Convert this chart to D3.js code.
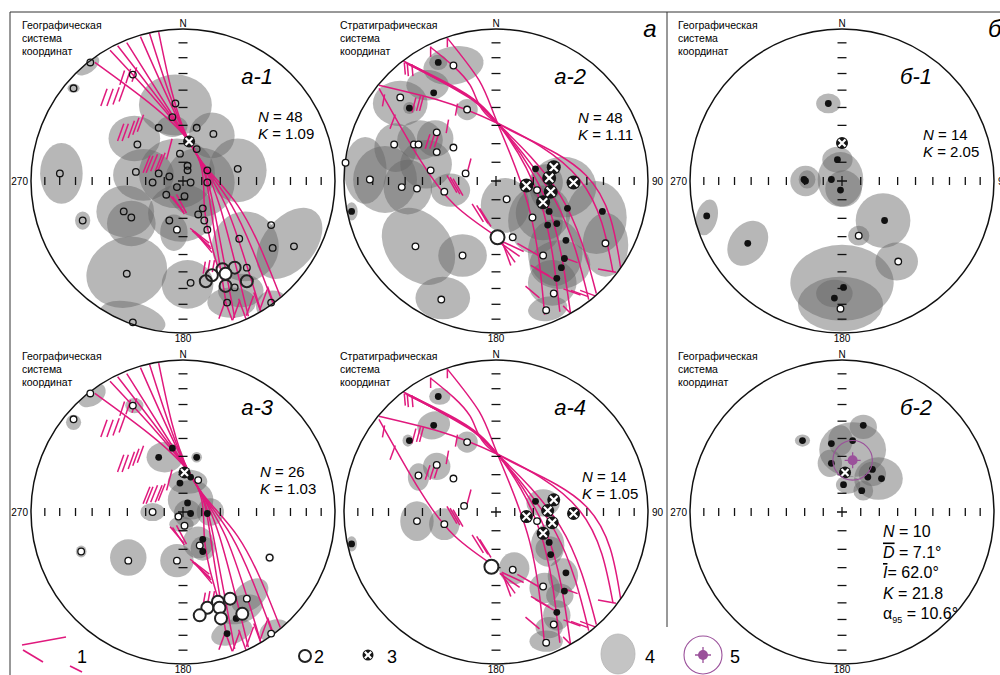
<!DOCTYPE html>
<html lang="ru">
<head>
<meta charset="UTF-8">
<title>Стереограммы</title>
<script src="https://d3js.org/d3.v7.min.js"></script>
<style>
  body { margin: 0; background: #fff; }
  svg { font-family: "Liberation Sans", Arial, sans-serif; display: block; }
</style>
</head>
<body>
<div id="chart"></div>
<script>
// all net data in percent of the net radius: x to the east, y to the north
// ellipses: [x, y, rx, ry, tilt (deg, clockwise)]

// ---- а-1 (geographic) ----
var ellA1 = [
  [-63,76,9,5,-35], [-72,61,4,3,0], [-5,50,24,20,0], [-80,5,14,20,0], [-32,28,17,15,0],
  [-7,36,10,7,0], [19,30,15,15,0], [36,7,19,21,0], [-4,5,25,23,0], [-26,4,20,17,0],
  [11,-1,23,23,0], [-38,-20,19,17,0], [-34,-28,16,15,0], [-1,-21,22,19,0], [-6,-34,9,12,0],
  [41,-43,22,23,0], [70,-41,27,17,-50], [-37,-60,27,23,-20], [3,-68,17,16,0], [38,-72,15,11,0],
  [32,-80,16,10,0], [-33,-90,22,10,15], [59,-82,11,10,0], [-66,-26,5,6,0]
];
var openA1 = [
  [-61,78],[-33,70],[-72,61],[-5,51],[-7,42],[-16,35],[9,35],[20,31],[-30,24],[9,21],
  [-2,18],[36,8],[-31,6],[-16,5],[-81,5],[3,10],[3,7],[16,7],[-9,3],[-20,-1],
  [5,-1],[16,-1],[-4,-4],[-11,-9],[1,-10],[-39,-20],[-34,-24],[13,-18],[10,-22],[-66,-26],
  [-9,-26],[14,-26],[16,-32],[58,-29],[37,-38],[59,-44],[73,-43],[42,-57],[-37,-61],[5,-67],
  [34,-70],[29,-80],[58,-80],[-33,-93]
];
var whiteA1 = [[-4,-32]];
var bigA1 = [[34,-57],[26,-58],[19,-62],[15,-66],[28,-69],[42,-66]];
var bigWhiteA1 = [[28,-61]];
var crossA1 = [[4,26]];

// ---- а-3 (geographic) ----
var ellA3 = [
  [-60,77,10,7,-35], [-32,70,6,5,0], [-72,59,5,5,0], [-12,36,12,10,0], [9,36,3.5,3.5,0],
  [3,20,13,8,0], [-20,0,8,6,0], [5,8,15,13,0], [18,0,9,9,0], [3,-1,9,9,0],
  [-1,-8,8,5,0], [10,-20,10,10.5,0], [13,-24,8,8,0], [-67,-26,3.5,4,0], [-36,-30,12,12,0],
  [-4,-32,11,11,0], [57,-30,3,3,0], [44,-55,14,9,-40], [38,-64,15,9,-20], [32,-79,14,8,-20],
  [60,-78,10,7,-20]
];
var openA3 = [[-61,78],[-33,70],[-72,61],[10,21],[-20,0],[-3,-3],[1,-9],[11,-22],[-67,-26],
  [-36,-32],[-4,-32],[57,-30],[42,-57],[58,-80]];
var dotsA3 = [[-7,42],[-16,36],[9,36],[5,23],[-2,19],[3,6],[5,-1],[16,-1],[13,-18],[13,-26],[35,-70],[29,-80]];
var bigA3 = [[23,-59],[31,-57],[16,-63],[24,-63],[11,-68],[25,-70],[39,-67]];
var crossA3 = [[1,26]];

// ---- а-2 (stratigraphic) ----
var ellA2 = [
  [-28,76,20,12.5,-10], [-38,78,6,5,0], [-45,63,14,10,0], [-63,51,18,15,0], [-57,48,4,4,0],
  [-19,47,7,7,0], [-86,7,14,22,0], [-66,22,14,16,0], [-50,27,15,13,0], [-40,28,12,12,0],
  [-73,1,21,22,0], [-58,-4,16,18,0], [-46,11,17,16,0], [-30,-6,13,11,0], [-95,-20,4,6,0],
  [-51,-43,28,21,50], [-22,-49,16,14,0], [-35,-77,18,14,0], [6,-16,16,18,0], [26,-26,18,22,0],
  [44,-4,22,20,0], [66,-24,20,24,0], [72,-42,15,21,0], [39,-47,18,22,0], [42,-55,20,16,0],
  [37,-67,16,15,0], [34,-84,13,8,-10], [31,-21,18,18,0], [33,-1,11,12,0]
];
var openA2 = [[-28,76],[-63,55],[-19,47],[-67,24],[-54,24],[-51,24],[-39,32],[-28,22],[-39,19],[-43,7],
  [-20,5],[-99,12],[-83,1],[-62,-4],[-52,-5],[-34,-7],[7,-12],[27,-6],[24,-24],[11,-37],
  [-53,-43],[-22,-49],[31,-49],[72,-41],[-36,-78],[38,-74],[33,-85]];
var dotsA2 = [[-38,78],[-41,58],[-57,48],[26,8],[-95,-20],[35,-20],[47,-18],[34,-29],[40,-28],[70,-20],
  [46,-39],[45,-51],[43,-57],[40,-64]];
var crossA2 = [[38,9],[35,2],[20,-3],[36,-7],[51,-1],[31,-14]];
var bigA2 = [[1,-37]];

// ---- а-4 (stratigraphic) ----
var ellA4 = [
  [-37,76,7,5.5,0], [-41,57,11,9,-20], [-58,47,3.5,4,0], [-19,46,7,7,0], [-39,30,9,9,0],
  [-51,23,7,9,0], [-52,-6,11,13,0], [-34,-8,10,10.5,0], [-95,-21,3.5,5,0], [31,6,11,9,0],
  [34,-22,11,14,0], [35,-24,9,8,0], [12,-37,10,10.5,0], [44,-42,10,11.5,0], [32,-50,10,10,0],
  [42,-55,9,8,0], [40,-68,9,10,0], [35,-76,9,7,0], [33,-85,11,7,0]
];
var dotsA4 = [[-38,76],[-41,57],[-57,47],[26,7],[-95,-21],[35,-20],[36,-28],[46,-40],[45,-52],[40,-66]];
var openA4 = [[-19,46],[-39,31],[-51,24],[-28,22],[-21,4],[-52,-6],[-34,-8],[27,-6],[11,-38],[31,-49],[38,-74],[33,-86]];
var crossA4 = [[38,8],[34,1],[20,-3],[37,-7],[51,-1],[31,-14]];
var bigA4 = [[-3,-36]];

// ---- б-1 ----
var ellB1 = [
  [-9,51,8,6.5,0], [-1,1,15,18,0], [-3,14,10,8.5,0], [1,-5,12,12,0], [-24,0,10,10,0],
  [-23,1,5.5,6,0], [-89,-24,7,12,15], [-62,-41,12,16,35], [27,-26,18,18,0], [11,-36,7,6.5,0],
  [36,-53,14,12.5,0], [0,-67,34,25,0], [-1,-81,28,18,0], [-5,-74,12,9,0]
];
var dotsB1 = [[-9,51],[-3,14],[-25,1],[-24,0],[-7,1],[-1,-6],[-89,-23],[-62,-41],[28,-26],[1,-70],[-5,-77]];
var openB1 = [[11,-36],[37,-53],[-1,-84]];
var crossB1 = [[0,25]];

// ---- б-2 ----
var ellB2 = [
  [14,56,9,8,0], [-26,47,5,4,0], [7,41,22,18,0], [-1,47,8,10,0], [-8,32,8,9,0],
  [24,22,16,14,0], [20,25,9,8,0], [4,18,8,6,0], [14,14,6.5,6.5,0]
];
var dotsB2 = [[14,57],[-26,47],[-7,45],[7,47],[-7,32],[20,28],[17,23],[26,22],[1,18],[13,14]];
var crossB2 = [[2,26]];
var meanB2 = [7,34];
var a95B2 = 13;

// remagnetization circles and their traces
var arcsGeo = [
  [[-58,78],[4,26],[14,-16],[23,-57]],
  [[-48,86],[4,26],[18,-16],[28,-78]],
  [[-43,89],[4,26],[20,-16],[34,-90]],
  [[-37,91],[4,26],[24,-16],[43,-89]],
  [[-28,95],[4,26],[28,-16],[51,-85]],
  [[-22,97],[4,26],[32,-16],[59,-80]],
  [[-16,98],[4,26],[36,-16],[64,-76]]
];
// dashes: [x, y, angle (deg, ccw from east), length]
var dashesGeo = [
  [-52,55,70,12],[-48,55,70,12],[-44,56,70,12],[-40,58,70,12],
  [-40,68,72,10],[-36,69,72,10],[-32,70,72,10],
  [-41,32,70,12],[-38,32,70,12],[-34,34,70,12],[-31,36,70,12],[-28,38,70,12],
  [-24,11,68,12],[-22,11,68,12],[-19,12,68,12],[-16,12,68,12],[-14,13,68,12],
  [-9,21,75,14],
  [-4,-15,-50,14],[-3,-16,-56,14],[-1,-15,-62,14],
  [11,-36,-38,16],[12,-38,-42,16],[13,-39,-46,16],[14,-41,-50,16],
  [14,-57,80,8],[17,-56,80,8],[20,-56,80,8],
  [26,-84,70,14],[30,-85,110,14],[35,-85,70,14],[39,-84,110,14],
  [44,-82,70,14],[49,-80,110,14],[53,-78,70,14],[58,-76,110,14]
];
var arcsStrat = [
  [[-61,79],[-24,60],[1,38],[29,-13],[42,-86]],
  [[-60,78],[-22,58],[1,38],[33,-13],[49,-87]],
  [[-58,77],[-20,57],[1,38],[39,-13],[61,-78]],
  [[-55,76],[-18,55],[1,38],[42,-9],[66,-74]],
  [[-77,63],[-37,53],[1,38],[55,1],[77,-60]],
  [[-43,88],[-17,63],[1,38],[59,4],[82,-57]],
  [[-32,94],[-11,66],[1,38],[22,-19],[32,-88]],
  [[-77,61],[-50,14],[-27,-16],[1,-37]]
];
var dashesStrat = [
  [-60,74,95,8],[-58,73,95,8],[-55,73,95,8],
  [-43,85,90,7],[-32,91,90,6],
  [-74,53,80,8],[-68,39,70,10],
  [-54,50,75,10],[-51,51,75,10],[-49,51,75,10],
  [-45,26,72,10],[-42,26,72,10],[-39,27,72,10],
  [-32,36,80,9],[-26,47,80,8],[-18,9,75,12],
  [-29,-2,-60,13],[-27,-3,-60,13],[-25,-4,-60,13],
  [-12,-21,-58,14],[-9,-22,-58,14],[-7,-24,-58,14],
  [9,-45,-35,16],[8,-47,-55,16],[11,-43,-25,16],[7,-48,-70,16],
  [21,-45,-30,16],
  [29,-59,-30,14],[32,-61,-30,14],
  [24,-73,-40,12],
  [50,-73,-20,12],[55,-74,-20,12],[61,-74,-20,12],
  [47,-85,-45,8],[73,-59,-10,12],[49,-52,-20,10]
];

var tickInc = [80, 70, 60, 50, 40, 30, 20, 10];   // inclination ticks, equal-area net
var sysLines = ["система", "координат"];

var R = 152;
var magenta = "#e0197d", purple = "#9b519b";

var panels = [
  {id:"a1", cx:183, cy:181, label:"а-1", sys:"Географическая", lx:22, w:true, e:false,
   stats:["48","1.09"], sx:75, sy:-59, hollow:true, ell:ellA1, open:openA1, white:whiteA1, dots:[],
   big:bigA1, bigWhite:bigWhiteA1, cross:crossA1, crossR:6, arcs:arcsGeo, dashes:dashesGeo},
  {id:"a2", cx:496, cy:181, label:"а-2", sys:"Стратиграфическая", lx:340, w:false, e:true,
   stats:["48","1.11"], sx:82, sy:-58, ell:ellA2, open:openA2, dots:dotsA2,
   big:[], bigWhite:bigA2, cross:crossA2, crossR:7, arcs:arcsStrat, dashes:dashesStrat},
  {id:"b1", cx:842, cy:181, label:"б-1", sys:"Географическая", lx:678, w:true, e:true,
   stats:["14","2.05"], sx:81, sy:-41, ell:ellB1, open:openB1, dots:dotsB1,
   big:[], bigWhite:[], cross:crossB1, crossR:6, arcs:[], dashes:[]},
  {id:"a3", cx:183, cy:512, label:"а-3", sys:"Географическая", lx:22, w:true, e:false,
   stats:["26","1.03"], sx:77, sy:-35, ell:ellA3, open:openA3, dots:dotsA3,
   big:[], bigWhite:bigA3, cross:crossA3, crossR:6, arcs:arcsGeo, dashes:dashesGeo},
  {id:"a4", cx:496, cy:512, label:"а-4", sys:"Стратиграфическая", lx:340, w:false, e:true,
   stats:["14","1.05"], sx:86, sy:-30, ell:ellA4, open:openA4, dots:dotsA4,
   big:[], bigWhite:bigA4, cross:crossA4, crossR:6.5, arcs:arcsStrat, dashes:dashesStrat},
  {id:"b2", cx:842, cy:512, label:"б-2", sys:"Географическая", lx:678, w:true, e:false,
   ell:ellB2, open:[], dots:dotsB2, big:[], bigWhite:[], cross:crossB2, crossR:6, arcs:[], dashes:[],
   mean:meanB2, a95:a95B2}
];

var svg = d3.select("#chart").append("svg")
  .attr("width", 1000).attr("height", 675)
  .style("background", "#fff");

// frame
svg.append("path").attr("d", "M10,675V12H1000").attr("fill", "none").attr("stroke", "#333").attr("stroke-width", 1);
svg.append("line").attr("x1", 667).attr("x2", 667).attr("y1", 12).attr("y2", 627)
  .attr("stroke", "#333").attr("stroke-width", 1);
svg.append("text").attr("x", 650).attr("y", 37).attr("text-anchor", "middle")
  .style("font-size", "24px").style("font-style", "italic").text("а");
svg.append("text").attr("x", 988).attr("y", 37)
  .style("font-size", "24px").style("font-style", "italic").text("б");

function eqArea(inc) {
  return Math.SQRT2 * Math.sin((90 - inc) / 2 * Math.PI / 180) * 100;
}

function crossMark(g, x, y, data, r) {
  var c = g.selectAll(null).data(data).join("g")
    .attr("transform", function(d) { return "translate(" + x(d[0]) + "," + y(d[1]) + ")"; });
  c.append("circle").attr("r", r).attr("fill", "#151515");
  var a = r * 0.58;
  c.append("path").attr("d", "M" + (-a) + "," + (-a) + "L" + a + "," + a + "M" + a + "," + (-a) + "L" + (-a) + "," + a)
    .attr("stroke", "#fff").attr("stroke-width", 2.2);
}

function meanMark(g, px, py, r) {
  var m = g.append("g").attr("transform", "translate(" + px + "," + py + ")");
  m.append("circle").attr("r", r).attr("fill", "none").attr("stroke", purple).attr("stroke-width", 1.1);
  m.append("circle").attr("r", 5).attr("fill", purple);
  m.append("path").attr("d", "M0,-8V8M-8,0H8").attr("stroke", purple).attr("stroke-width", 1.3);
}

panels.forEach(function(p) {
  var x = d3.scaleLinear().domain([-100, 100]).range([p.cx - R, p.cx + R]);
  var y = d3.scaleLinear().domain([-100, 100]).range([p.cy + R, p.cy - R]);
  var len = function(v) { return x(v) - x(0); };

  var g = svg.append("g").attr("class", "net-" + p.id);
  svg.append("clipPath").attr("id", "clip-" + p.id)
    .append("circle").attr("cx", p.cx).attr("cy", p.cy).attr("r", R);
  var inner = g.append("g").attr("clip-path", "url(#clip-" + p.id + ")");

  // confidence ellipses
  inner.selectAll("ellipse").data(p.ell).join("ellipse")
    .attr("transform", function(d) { return "translate(" + x(d[0]) + "," + y(d[1]) + ") rotate(" + d[4] + ")"; })
    .attr("rx", function(d) { return len(d[2]); })
    .attr("ry", function(d) { return len(d[3]); })
    .attr("fill", "#666").attr("fill-opacity", 0.47);

  // arc traces
  inner.selectAll("line.dash").data(p.dashes).join("line").attr("class", "dash")
    .attr("x1", function(d) { return x(d[0] - d[3] / 2 * Math.cos(d[2] * Math.PI / 180)); })
    .attr("y1", function(d) { return y(d[1] - d[3] / 2 * Math.sin(d[2] * Math.PI / 180)); })
    .attr("x2", function(d) { return x(d[0] + d[3] / 2 * Math.cos(d[2] * Math.PI / 180)); })
    .attr("y2", function(d) { return y(d[1] + d[3] / 2 * Math.sin(d[2] * Math.PI / 180)); })
    .attr("stroke", magenta).attr("stroke-width", 1.5);

  var line = d3.line().x(function(d) { return x(d[0]); }).y(function(d) { return y(d[1]); }).curve(d3.curveNatural);
  inner.selectAll("path.arc").data(p.arcs).join("path").attr("class", "arc")
    .attr("d", line).attr("fill", "none").attr("stroke", magenta).attr("stroke-width", 1.5);

  // net outline and ticks
  g.append("circle").attr("cx", p.cx).attr("cy", p.cy).attr("r", R)
    .attr("fill", "none").attr("stroke", "#111").attr("stroke-width", 1.5);
  var tk = [];
  tickInc.forEach(function(i) { var r = eqArea(i); tk.push([r, 0], [-r, 0], [0, r], [0, -r]); });
  g.selectAll("line.tick").data(tk).join("line").attr("class", "tick")
    .attr("x1", function(d) { return d[1] === 0 ? x(d[0]) : x(0) - 4.5; })
    .attr("x2", function(d) { return d[1] === 0 ? x(d[0]) : x(0) + 4.5; })
    .attr("y1", function(d) { return d[1] === 0 ? y(0) - 4 : y(d[1]); })
    .attr("y2", function(d) { return d[1] === 0 ? y(0) + 4 : y(d[1]); })
    .attr("stroke", "#111").attr("stroke-width", 1.3);
  g.append("path").attr("d", "M" + (x(0) - 5) + "," + y(0) + "h10M" + x(0) + "," + (y(0) - 5) + "v10")
    .attr("stroke", "#111").attr("stroke-width", 1.3);

  // directions
  g.selectAll("circle.open").data(p.open).join("circle").attr("class", "open")
    .attr("cx", function(d) { return x(d[0]); }).attr("cy", function(d) { return y(d[1]); })
    .attr("r", 3.3).attr("fill", p.hollow ? "none" : "#fff").attr("stroke", "#111").attr("stroke-width", 1.3);
  g.selectAll("circle.white").data(p.white || []).join("circle").attr("class", "white")
    .attr("cx", function(d) { return x(d[0]); }).attr("cy", function(d) { return y(d[1]); })
    .attr("r", 3.3).attr("fill", "#fff").attr("stroke", "#111").attr("stroke-width", 1.3);
  g.selectAll("circle.dot").data(p.dots).join("circle").attr("class", "dot")
    .attr("cx", function(d) { return x(d[0]); }).attr("cy", function(d) { return y(d[1]); })
    .attr("r", 3.4).attr("fill", "#111");
  g.selectAll("circle.big").data(p.big).join("circle").attr("class", "big")
    .attr("cx", function(d) { return x(d[0]); }).attr("cy", function(d) { return y(d[1]); })
    .attr("r", 6).attr("fill", "none").attr("stroke", "#222").attr("stroke-width", 2);
  g.selectAll("circle.bigw").data(p.bigWhite).join("circle").attr("class", "bigw")
    .attr("cx", function(d) { return x(d[0]); }).attr("cy", function(d) { return y(d[1]); })
    .attr("r", p.id === "a2" || p.id === "a4" ? 7 : 6).attr("fill", "#fff").attr("stroke", "#222").attr("stroke-width", 2);
  crossMark(g, x, y, p.cross, p.crossR);
  if (p.mean) meanMark(g, x(p.mean[0]), y(p.mean[1]), len(p.a95));

  // labels
  g.append("text").attr("x", p.cx).attr("y", p.cy - 154).attr("text-anchor", "middle")
    .style("font-size", "10px").text("N");
  g.append("text").attr("x", p.cx).attr("y", p.cy + 161).attr("text-anchor", "middle")
    .style("font-size", "10px").text("180");
  if (p.w) g.append("text").attr("x", p.cx - R - 3).attr("y", p.cy + 4).attr("text-anchor", "end")
    .style("font-size", "10px").text("270");
  if (p.e) g.append("text").attr("x", p.cx + R + 4).attr("y", p.cy + 4)
    .style("font-size", "10px").text("90");
  var sys = g.append("text").style("font-size", "10.5px");
  [p.sys].concat(sysLines).forEach(function(s, i) {
    sys.append("tspan").attr("x", p.lx).attr("y", p.cy - 152 + i * 13).text(s);
  });
  g.append("text").attr("x", p.cx + 90).attr("y", p.cy - 97).attr("text-anchor", "end")
    .style("font-size", "22px").style("font-style", "italic").text(p.label);

  if (p.stats) {
    var st = g.append("text").style("font-size", "15px");
    var t1 = st.append("tspan").attr("x", p.cx + p.sx).attr("y", p.cy + p.sy);
    t1.append("tspan").style("font-style", "italic").text("N");
    t1.append("tspan").text(" = " + p.stats[0]);
    var t2 = st.append("tspan").attr("x", p.cx + p.sx).attr("y", p.cy + p.sy + 17);
    t2.append("tspan").style("font-style", "italic").text("K");
    t2.append("tspan").text(" = " + p.stats[1]);
  }
});

// б-2 statistics
var b2 = panels[5];
var statLines = [
  {it: "N", rest: " = 10"},
  {it: "D", rest: " = 7.1°", bar: true},
  {it: "I", rest: "= 62.0°", bar: true},
  {it: "K", rest: " = 21.8"},
  {alpha: true, rest: " = 10.6°"}
];
var sb = svg.append("text").style("font-size", "16px");
statLines.forEach(function(s, i) {
  var t = sb.append("tspan").attr("x", b2.cx + 41).attr("y", b2.cy + 25 + i * 20.5);
  if (s.alpha) {
    t.append("tspan").text("α");
    t.append("tspan").attr("dy", 4).style("font-size", "9px").text("95");
    t.append("tspan").attr("dy", -4).text(s.rest);
  } else {
    var it = t.append("tspan").style("font-style", "italic").text(s.it);
    if (s.bar) it.style("text-decoration", "overline");
    t.append("tspan").text(s.rest);
  }
});

// legend
var lg = svg.append("g").attr("class", "legend");
[[22,645,66,637],[23,650,43,662],[70,666,82,672]].forEach(function(l) {
  lg.append("line").attr("x1", l[0]).attr("y1", l[1]).attr("x2", l[2]).attr("y2", l[3])
    .attr("stroke", magenta).attr("stroke-width", 1.6);
});
lg.append("circle").attr("cx", 305).attr("cy", 656).attr("r", 6)
  .attr("fill", "#fff").attr("stroke", "#222").attr("stroke-width", 2);
var lx = d3.scaleLinear().domain([-100, 100]).range([368 - R, 368 + R]);
var ly = d3.scaleLinear().domain([-100, 100]).range([655 + R, 655 - R]);
crossMark(lg, lx, ly, [[0, 0]], 5.5);
lg.append("ellipse").attr("cx", 618).attr("cy", 654).attr("rx", 17).attr("ry", 20)
  .attr("fill", "#c4c4c4").attr("stroke", "#b5b5b5").attr("stroke-width", 0.8);
meanMark(lg, 703, 655, 19);
var legendLabels = [["1", 77], ["2", 314], ["3", 387], ["4", 645], ["5", 730]];
lg.selectAll("text").data(legendLabels).join("text")
  .attr("x", function(d) { return d[1]; }).attr("y", 663)
  .style("font-size", "18px").text(function(d) { return d[0]; });
</script>
</body>
</html>
